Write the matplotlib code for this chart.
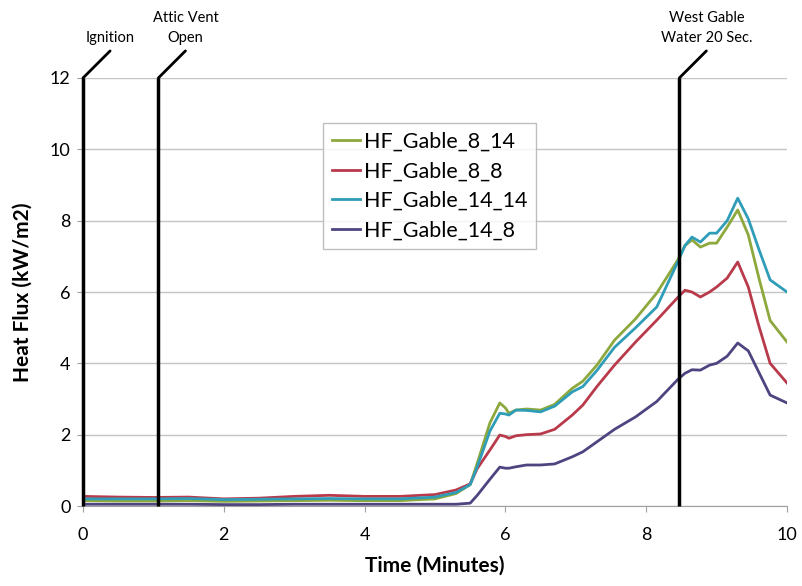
import matplotlib
matplotlib.use("Agg")
import matplotlib.pyplot as plt
import matplotlib.transforms as mtransforms

plt.rcParams['font.family'] = ['Lato', 'DejaVu Sans']

time_min = [0, 0.5, 1, 1.5, 2, 2.5, 3, 3.5, 4, 4.5, 5, 5.3, 5.5, 5.6, 5.78, 5.92,
            6.0, 6.05, 6.15, 6.3, 6.5, 6.7, 6.95, 7.1, 7.3, 7.55, 7.85, 8.15, 8.45,
            8.55, 8.65, 8.77, 8.9, 9.0, 9.15, 9.3, 9.45, 9.6, 9.76, 10.0]

hf_gable_8_14 = [0.15, 0.14, 0.14, 0.15, 0.13, 0.14, 0.15, 0.16, 0.15, 0.15, 0.2, 0.35,
                 0.6, 1.2, 2.33, 2.89, 2.75, 2.6, 2.69, 2.72, 2.69, 2.85, 3.3, 3.5, 3.95,
                 4.65, 5.25, 5.97, 6.9, 7.3, 7.46, 7.26, 7.37, 7.37, 7.82, 8.3, 7.6, 6.4,
                 5.2, 4.6]
hf_gable_8_8 = [0.27, 0.25, 0.24, 0.25, 0.2, 0.22, 0.27, 0.3, 0.27, 0.27, 0.32, 0.45,
                0.62, 1.05, 1.57, 1.99, 1.95, 1.9, 1.97, 2.0, 2.02, 2.15, 2.55, 2.83, 3.35,
                3.95, 4.6, 5.21, 5.85, 6.05, 6.0, 5.86, 6.0, 6.14, 6.39, 6.84, 6.14, 5.05,
                4.0, 3.45]
hf_gable_14_14 = [0.2, 0.2, 0.2, 0.21, 0.18, 0.19, 0.2, 0.21, 0.2, 0.2, 0.25, 0.38,
                  0.6, 1.1, 2.1, 2.6, 2.58, 2.55, 2.69, 2.68, 2.64, 2.8, 3.2, 3.35, 3.8,
                  4.45, 5.0, 5.58, 6.85, 7.3, 7.54, 7.4, 7.65, 7.65, 8.0, 8.63, 8.05, 7.2,
                  6.34, 6.0]
hf_gable_14_8 = [0.05, 0.05, 0.05, 0.05, 0.04, 0.04, 0.05, 0.05, 0.05, 0.05, 0.05, 0.05,
                 0.08, 0.3, 0.75, 1.09, 1.06, 1.06, 1.1, 1.15, 1.15, 1.18, 1.38, 1.52, 1.8,
                 2.15, 2.5, 2.93, 3.55, 3.72, 3.82, 3.81, 3.95, 4.0, 4.2, 4.57, 4.35, 3.75,
                 3.11, 2.89]

series_labels = ["HF_Gable_8_14", "HF_Gable_8_8", "HF_Gable_14_14", "HF_Gable_14_8"]
series_values = [hf_gable_8_14, hf_gable_8_8, hf_gable_14_14, hf_gable_14_8]
series_colors = ["#8DA83C", "#B83A4B", "#2F9DB8", "#4E4580"]

event_times = [0.0, 1.07, 8.47]
event_labels = ["Ignition", "Attic Vent\nOpen", "West Gable\nWater 20 Sec."]

x_ticks = [0, 2, 4, 6, 8, 10]
y_ticks = [0, 2, 4, 6, 8, 10, 12]

fig = plt.figure(figsize=(8.02, 5.86), dpi=100)
ax = fig.add_axes([0.1035, 0.1365, 0.8778, 0.7304])

for lab, vals, col in zip(series_labels, series_values, series_colors):
    ax.plot(time_min, vals, color=col, lw=2.0, label=lab, zorder=3)

ax.set_xlim(0, 10)
ax.set_ylim(0, 12)
ax.set_xticks(x_ticks)
ax.set_yticks(y_ticks)
ax.grid(axis='y', color='#C4C4C4', lw=1.0)
ax.set_axisbelow(True)
for s in ['top', 'right']:
    ax.spines[s].set_visible(False)
for s in ['left', 'bottom']:
    ax.spines[s].set_color('#A0A0A0')
ax.tick_params(axis='both', colors='#A0A0A0', labelcolor='black', labelsize=13,
               length=4, direction='out')
ax.tick_params(axis='x', pad=11)
ax.tick_params(axis='y', pad=5)

ax.set_xlabel("Time (Minutes)", fontsize=15, fontweight='bold', labelpad=9)
ax.set_ylabel("Heat Flux (kW/m2)", fontsize=15, fontweight='bold', labelpad=12)

# event lines with diagonal leader and text
for t, lab in zip(event_times, event_labels):
    ax.plot([t, t], [0, 12], color='black', lw=2.5, zorder=4, clip_on=False,
            solid_capstyle='butt')
    off = mtransforms.offset_copy(ax.transData, fig=fig, x=19.5, y=19.5, units='points')
    ax.annotate("", xy=(t, 12), xytext=(t, 12), textcoords=off,
                arrowprops=dict(arrowstyle='-', color='black', lw=2.0,
                                shrinkA=0, shrinkB=0), annotation_clip=False)
    ax.annotate(lab, xy=(t, 12), xycoords='data',
                xytext=(19.5, 24), textcoords='offset points',
                ha='center', va='bottom', fontsize=10.5, linespacing=1.5,
                annotation_clip=False)

leg = ax.legend(loc='upper left', bbox_to_anchor=(0.341, 0.895), fontsize=15.5,
                frameon=True, fancybox=False, edgecolor='#B0B0B0',
                handlelength=1.3, handletextpad=0.2, borderpad=0.4,
                labelspacing=0.45, borderaxespad=0)
leg.get_frame().set_linewidth(1.0)

fig.savefig("out.png", dpi=100)
